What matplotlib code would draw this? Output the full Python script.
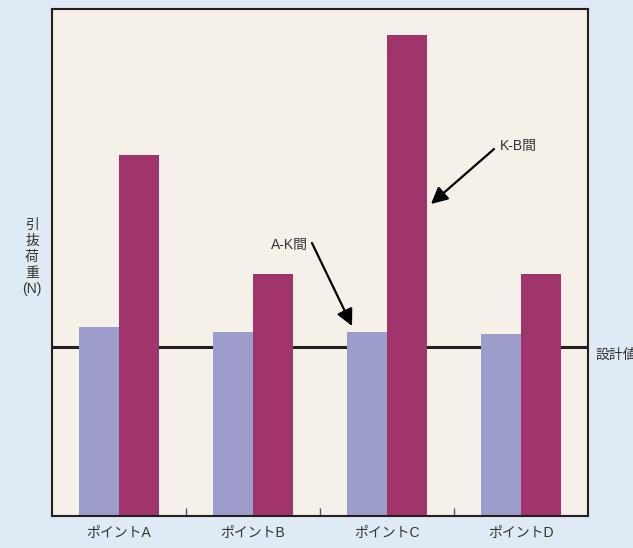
import numpy as np
import matplotlib.pyplot as plt

plt.rcParams['font.family'] = ['Liberation Sans', 'Noto Sans CJK JP']

points = ['ポイントA', 'ポイントB', 'ポイントC', 'ポイントD']
ak = [189, 184, 184, 182]    # A-K間
kb = [361, 242, 481, 242]    # K-B間
design = 169                 # 設計値

x = np.arange(len(points))
w = 0.295

fig = plt.figure(figsize=(6.33, 5.48), dpi=100, facecolor='#dfeaf4')
ax = fig.add_axes([52/633, 32/548, 536/633, 507/548])
ax.set_facecolor('#f5f1e9')

ax.axhline(design, color='#231f20', lw=2.2, zorder=1)
ax.bar(x - w/2, ak, w, color='#9b9dcb', zorder=2)
ax.bar(x + w/2, kb, w, color='#a0356c', zorder=2)

ax.set_xlim(-0.5, 3.5)
ax.set_ylim(0, 507)
ax.set_yticks([])
ax.set_xticks(x[:-1] + 0.5)
ax.set_xticklabels([])
ax.tick_params(axis='x', direction='in', length=6, width=1, color='#555555')
for i, p in enumerate(points):
    ax.text(x[i], -17, p, ha='center', va='center', fontsize=10, color='#333333')

for s in ax.spines.values():
    s.set_color('#231f20')
    s.set_linewidth(1.5)

ax.text(3.555, design - 8, '設計値', ha='left', va='center', fontsize=10,
        color='#333333', clip_on=False)

fig.text(32/633, 1 - 257/548, '引\n抜\n荷\n重\n(N)', ha='center', va='center',
         fontsize=10, color='#333333', linespacing=1.2)

arrow = dict(arrowstyle='-|>', mutation_scale=25, lw=1.6, color='black',
             shrinkA=0, shrinkB=0)
ax.annotate('', xy=(1.739, 190), xytext=(1.44, 273), arrowprops=arrow)
ax.text(1.41, 271, 'A-K間', ha='right', va='center', fontsize=10, color='#333333')
ax.annotate('', xy=(2.328, 312), xytext=(2.799, 367), arrowprops=arrow)
ax.text(2.843, 370, 'K-B間', ha='left', va='center', fontsize=10, color='#333333')

fig.savefig('out.png', dpi=100, facecolor=fig.get_facecolor())
